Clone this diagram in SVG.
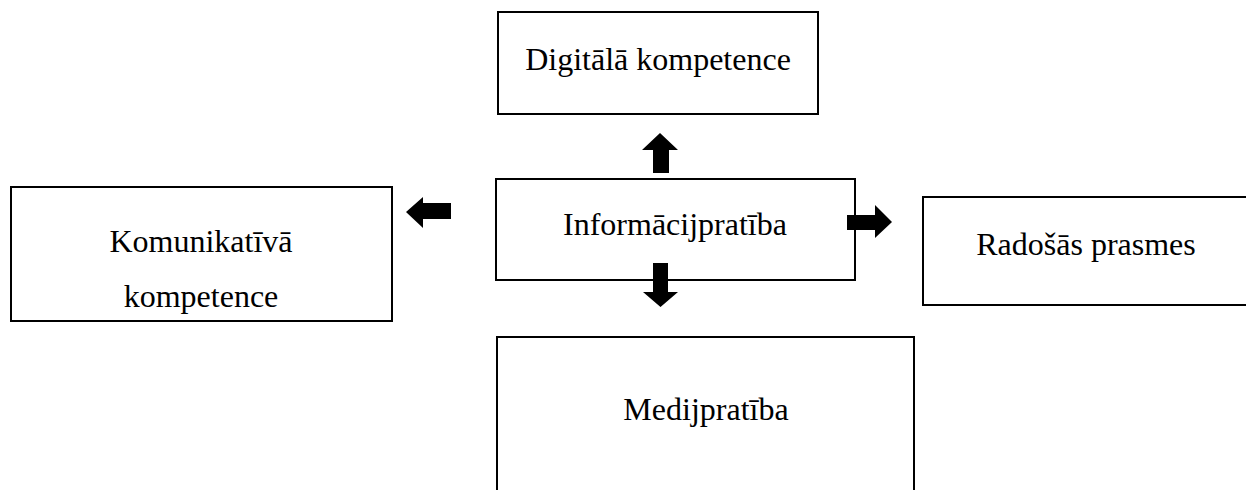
<svg xmlns="http://www.w3.org/2000/svg" width="1246" height="490" viewBox="0 0 1246 490">
<style>
.box{fill:#fff;stroke:#000;stroke-width:2}
.t{font-family:"Liberation Serif","Times New Roman",serif;font-size:32px;fill:#000;text-anchor:middle}
.arr{fill:#000}
</style>
<rect width="1246" height="490" fill="#fff"/>
<g id="digitala">
<rect class="box" x="498" y="12" width="320" height="102"/>
<text class="t" x="658" y="70">Digitālā kompetence</text>
</g>
<g id="komunikativa">
<rect class="box" x="11" y="187" width="381" height="134"/>
<text class="t" x="201" y="252">Komunikatīvā</text>
<text class="t" x="201" y="307">kompetence</text>
</g>
<g id="radosas">
<rect class="box" x="923" y="197" width="330" height="108"/>
<text class="t" x="1086" y="255">Radošās prasmes</text>
</g>
<g id="medijpratiba">
<rect class="box" x="497" y="337" width="417" height="170"/>
<text class="t" x="706" y="420">Medijpratība</text>
</g>
<g id="informacijpratiba">
<rect class="box" x="496" y="179" width="359" height="101"/>
<text class="t" x="675" y="235">Informācijpratība</text>
</g>
<g id="connectors">
<polygon class="arr" points="653,173 669,173 669,150 678,150 660,133 642,150 653,150"/>
<polygon class="arr" points="653,263 668,263 668,292 678,292 660.5,307 643,292 653,292"/>
<polygon class="arr" points="451,203 451,219 423,219 423,228 406,212 423,197 423,203"/>
<polygon class="arr" points="847,215 875,215 875,205 892,222 875,238 875,230 847,230"/>
</g>
</svg>
